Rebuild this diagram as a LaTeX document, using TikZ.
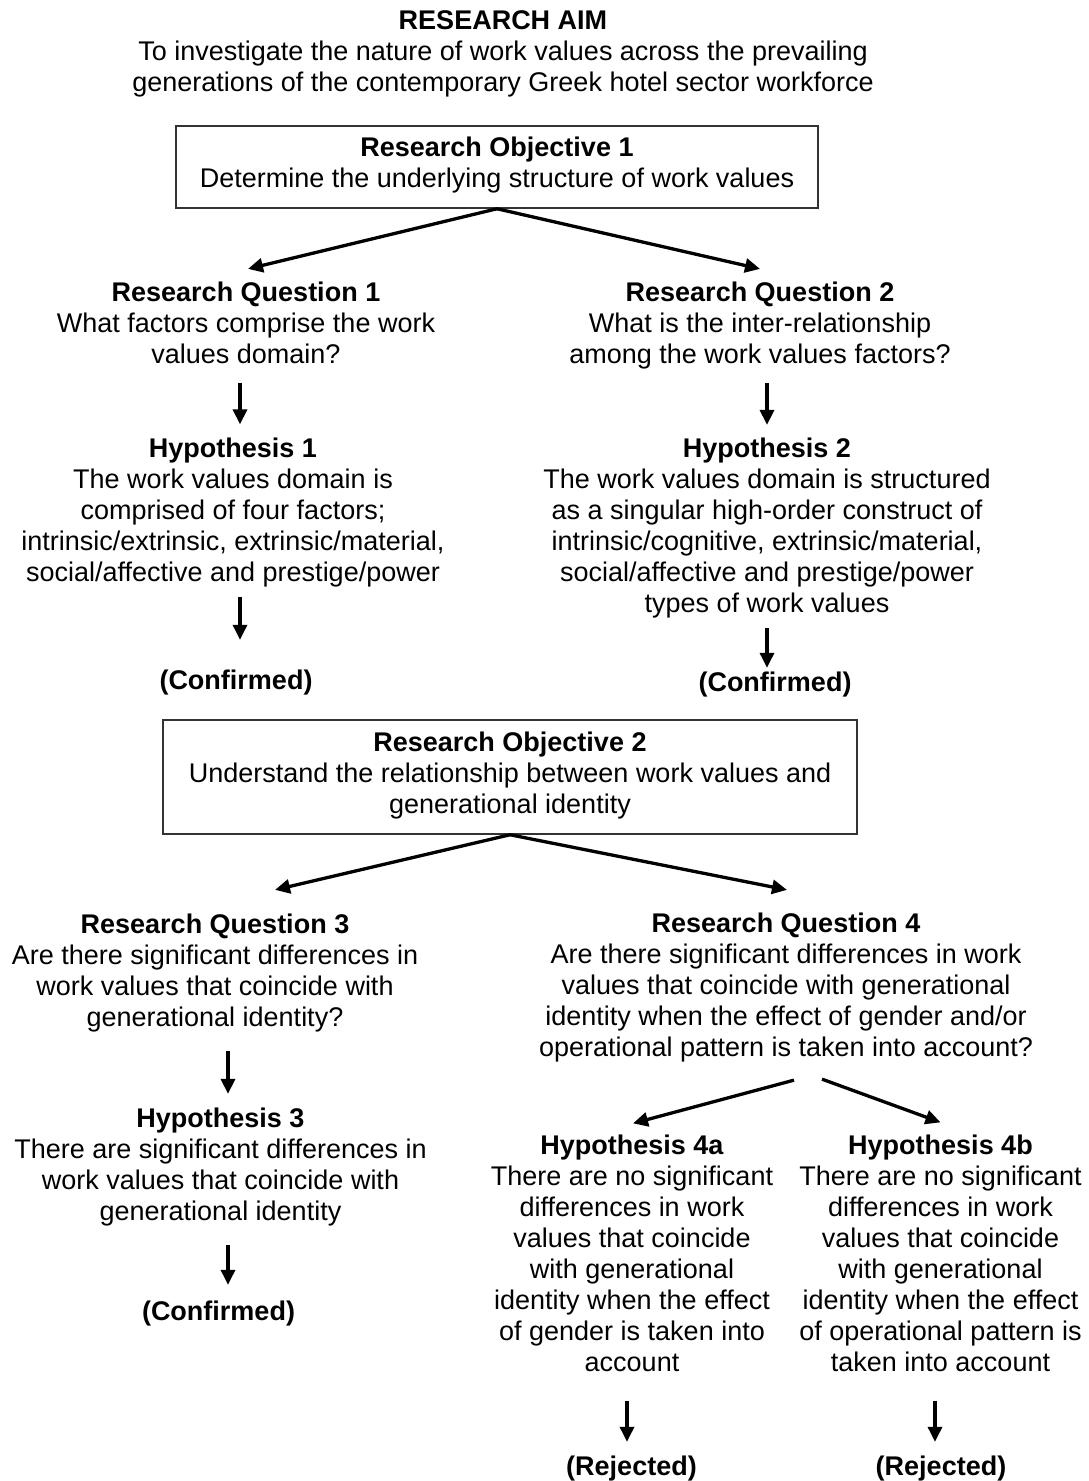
\documentclass[tikz,border=0pt]{standalone}
\usepackage{fontspec}
\setmainfont{Liberation Sans}
\usetikzlibrary{arrows.meta}

\tikzset{
  txt/.style={inner sep=0pt, align=center,
    font=\fontsize{27}{31}\selectfont,
    execute at begin node=\strut, execute at end node=\strut},
  objbox/.style={txt, draw=black!80, line width=1.5pt,
    execute at begin node=\rule{0pt}{27.7pt}},
  arr/.style={line width=3.3pt, -{Triangle[length=15pt,width=14pt]}},
}

\begin{document}
\begin{tikzpicture}[x=1pt, y=-1pt]
\useasboundingbox (0,0) rectangle (1089,1481);

% aim
\node[txt] (aim) at (503,56) {\textbf{RESEARCH AIM}\\
  To investigate the nature of work values across the prevailing\\
  generations of the contemporary Greek hotel sector workforce};

% objective 1
\node[objbox, minimum width=642pt, minimum height=82pt] (obj1) at (497,167)
  {\textbf{Research Objective 1}\\ Determine the underlying structure of work values};

\node[txt] (rq1) at (246,327.5) {\textbf{Research Question 1}\\
  What factors comprise the work\\ values domain?};
\node[txt] (hyp1) at (233,514) {\textbf{Hypothesis 1}\\
  The work values domain is\\ comprised of four factors;\\
  intrinsic/extrinsic, extrinsic/material,\\ social/affective and prestige/power};
\node[txt] (conf1) at (236,683.5) {\textbf{(Confirmed)}};

\node[txt] (rq2) at (760,327.5) {\textbf{Research Question 2}\\
  What is the inter-relationship\\ among the work values factors?};
\node[txt] (hyp2) at (767,530) {\textbf{Hypothesis 2}\\
  The work values domain is structured\\ as a singular high-order construct of\\
  intrinsic/cognitive, extrinsic/material,\\ social/affective and prestige/power\\
  types of work values};
\node[txt] (conf2) at (775,685.5) {\textbf{(Confirmed)}};

% objective 2
\node[objbox, minimum width=694pt, minimum height=114pt] (obj2) at (510,777)
  {\textbf{Research Objective 2}\\ Understand the relationship between work values and\\
  generational identity};

\node[txt] (rq3) at (215,975) {\textbf{Research Question 3}\\
  Are there significant differences in\\ work values that coincide with\\
  generational identity?};
\node[txt] (hyp3) at (220.5,1169) {\textbf{Hypothesis 3}\\
  There are significant differences in\\ work values that coincide with\\
  generational identity};
\node[txt] (conf3) at (218.5,1314.5) {\textbf{(Confirmed)}};

\node[txt] (rq4) at (786,989.5) {\textbf{Research Question 4}\\
  Are there significant differences in work\\ values that coincide with generational\\
  identity when the effect of gender and/or\\ operational pattern is taken into account?};
\node[txt] (hyp4a) at (632,1257.5) {\textbf{Hypothesis 4a}\\
  There are no significant\\ differences in work\\ values that coincide\\
  with generational\\ identity when the effect\\ of gender is taken into\\ account};
\node[txt] (hyp4b) at (940.5,1257.5) {\textbf{Hypothesis 4b}\\
  There are no significant\\ differences in work\\ values that coincide\\
  with generational\\ identity when the effect\\ of operational pattern is\\ taken into account};
\node[txt] (reja) at (631.5,1469.5) {\textbf{(Rejected)}};
\node[txt] (rejb) at (941,1469.5) {\textbf{(Rejected)}};

% connectors
\draw[arr] (obj1.south) -- ([xshift=2pt,yshift=13pt]rq1.north);
\draw[arr] (obj1.south) -- ([yshift=13pt]rq2.north);
\draw[arr] ([xshift=-6pt,yshift=-10pt]rq1.south) -- ([xshift=7pt,yshift=13pt]hyp1.north);
\draw[arr] ([xshift=7pt,yshift=-6pt]hyp1.south) -- ([xshift=4pt,yshift=28pt]conf1.north);
\draw[arr] ([xshift=7pt,yshift=-10pt]rq2.south) -- ([yshift=13pt]hyp2.north);
\draw[arr] ([yshift=-6pt]hyp2.south) -- ([xshift=-8pt,yshift=2pt]conf2.north);

\draw[arr] (obj2.south) -- ([xshift=60pt,yshift=24pt]rq3.north);
\draw[arr] (obj2.south) -- ([xshift=1pt,yshift=23pt]rq4.north);
\draw[arr] ([xshift=13pt,yshift=-15pt]rq3.south) -- ([xshift=7.5pt,yshift=14pt]hyp3.north);
\draw[arr] ([xshift=7.5pt,yshift=-15pt]hyp3.south) -- ([xshift=9.5pt,yshift=14pt]conf3.north);
\draw[arr] ([xshift=8pt,yshift=-14pt]rq4.south) -- ([xshift=1pt,yshift=11pt]hyp4a.north);
\draw[arr] ([xshift=36pt,yshift=-13pt]rq4.south) -- ([yshift=12pt]hyp4b.north);
\draw[arr] ([xshift=-5pt,yshift=-20pt]hyp4a.south) -- ([xshift=-4.5pt,yshift=12pt]reja.north);
\draw[arr] ([xshift=-5.5pt,yshift=-20pt]hyp4b.south) -- ([xshift=-6pt,yshift=12pt]rejb.north);
\end{tikzpicture}
\end{document}
